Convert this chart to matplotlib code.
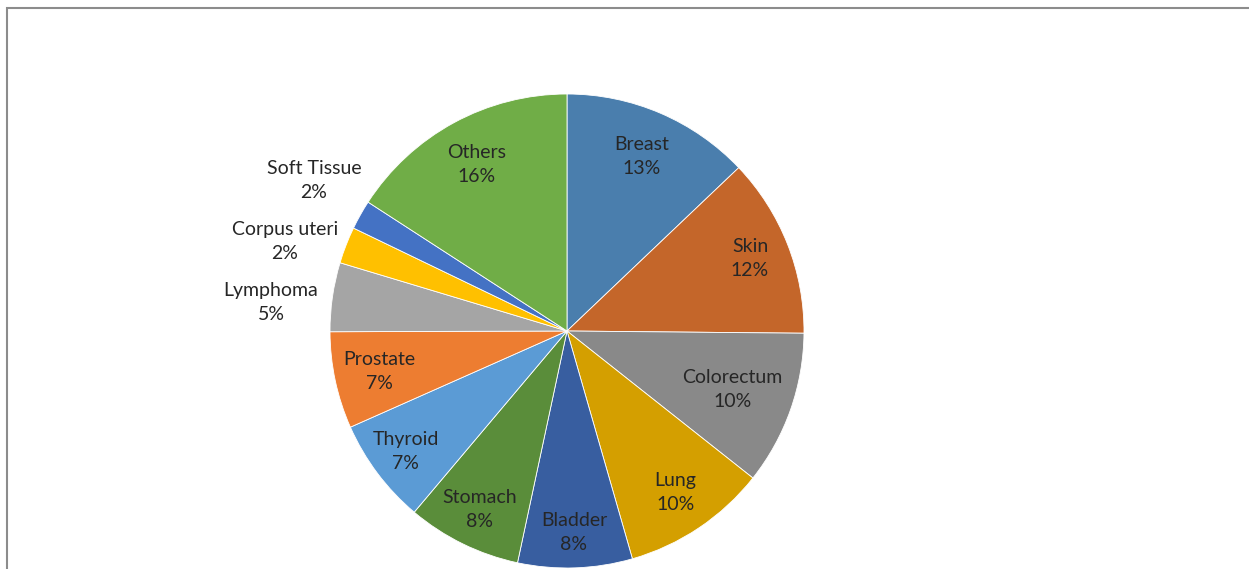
import numpy as np
import matplotlib.pyplot as plt

# shares of each cancer site
sites = ['Breast', 'Skin', 'Colorectum', 'Lung', 'Bladder', 'Stomach',
         'Thyroid', 'Prostate', 'Lymphoma', 'Corpus uteri', 'Soft Tissue', 'Others']
shares = [12.9, 12.25, 10.5, 9.9, 7.8, 7.8, 7.2, 6.6, 4.7, 2.5, 2.0, 15.85]
pct_labels = ['13%', '12%', '10%', '10%', '8%', '8%', '7%', '7%', '5%', '2%', '2%', '16%']

colors = ['#4A7EAD', '#C4662A', '#898989', '#D49F00', '#385EA0', '#5A8D3A',
          '#5B9BD5', '#ED7D31', '#A5A5A5', '#FFC000', '#4472C4', '#70AD47']

plt.rcParams['font.family'] = ['Lato', 'DejaVu Sans']

W, H = 1249, 569
fig = plt.figure(figsize=(W / 100, H / 100), dpi=100)
ax = fig.add_axes([0, 0, 1, 1])

cx, cy, R = 567, 238, 237
wedges, _ = ax.pie(shares, colors=colors, startangle=90, counterclock=False,
                   center=(cx, cy), radius=R, frame=True,
                   wedgeprops=dict(edgecolor='white', linewidth=0.6))
ax.set_xlim(0, W)
ax.set_ylim(0, H)
ax.set_aspect('equal')
ax.axis('off')

# label radius as fraction of R (inside labels); outside ones placed left of pie
lab_r = [0.80, 0.83, 0.74, 0.82, 0.85, 0.84, 0.85, 0.81, None, None, None, 0.80]
outside = {8: (271, 267), 9: (285, 328), 10: (314, 389)}

for i, w in enumerate(wedges):
    text = sites[i] + '\n' + pct_labels[i]
    if lab_r[i] is None:
        x, y = outside[i]
    else:
        ang = np.deg2rad((w.theta1 + w.theta2) / 2)
        x = cx + lab_r[i] * R * np.cos(ang)
        y = cy + lab_r[i] * R * np.sin(ang)
    ax.text(x, y, text, ha='center', va='center', fontsize=14,
            color='#262626', linespacing=1.5)

# chart frame (partly cut off at right and bottom)
ax.plot([7.5, 7.5, W], [0, H - 7.5, H - 7.5], color='#8C8C8C', lw=1.5,
        solid_joinstyle='miter', clip_on=False)

fig.savefig('out.png', dpi=100)
